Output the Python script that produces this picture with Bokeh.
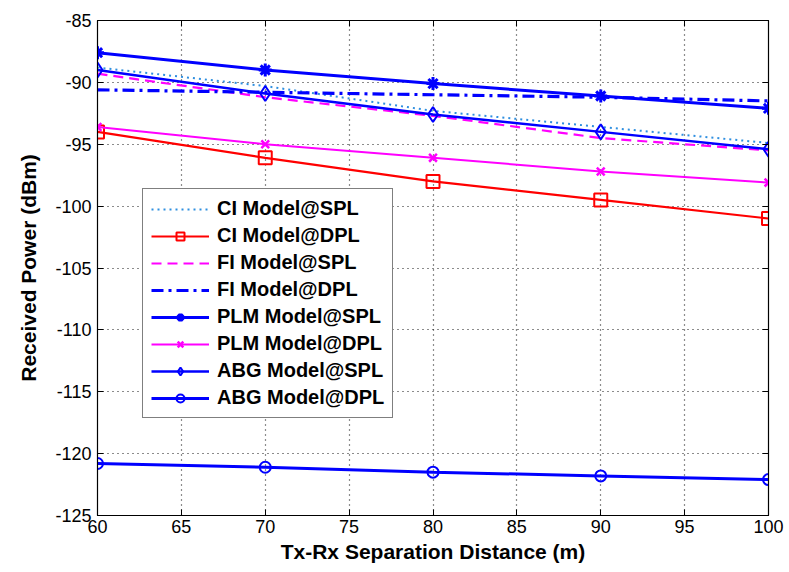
from bokeh.plotting import figure
from bokeh.models import LinearAxis, FixedTicker, Range1d
from bokeh.embed import file_html
from bokeh.resources import INLINE

distance = [60, 70, 80, 90, 100]
ci_spl = [-88.8, -90.3, -92.3, -93.6, -94.9]
ci_dpl = [-94.0, -96.1, -98.0, -99.5, -101.0]
fi_spl = [-89.3, -91.2, -92.7, -94.5, -95.5]
fi_dpl = [-90.6, -90.8, -91.0, -91.2, -91.5]
plm_spl = [-87.6, -89.0, -90.1, -91.1, -92.1]
plm_dpl = [-93.6, -95.0, -96.1, -97.2, -98.1]
abg_spl = [-89.0, -90.9, -92.6, -94.0, -95.4]
abg_dpl = [-120.8, -121.1, -121.5, -121.8, -122.1]

x_ticks = [60, 65, 70, 75, 80, 85, 90, 95, 100]
y_ticks = [-125, -120, -115, -110, -105, -100, -95, -90, -85]
y_tick_labels = ["-125", "-120", "-115", "-110", "-105", "-100", "-95", "-90", "-85"]

FONT = "Liberation Sans"

p = figure(width=789, height=572, output_backend="svg", toolbar_location=None,
           x_range=Range1d(60, 100), y_range=Range1d(-125, -85),
           min_border_left=97, min_border_right=21, min_border_top=20, min_border_bottom=57)
p.background_fill_color = "white"
p.border_fill_color = "white"
p.outline_line_color = "black"
p.outline_line_width = 1.2

for ax in [p.xaxis[0], p.yaxis[0]]:
    ax.major_tick_in = 6
    ax.major_tick_out = 0
    ax.minor_tick_line_color = None
    ax.axis_line_color = "black"
    ax.major_label_text_font = FONT
    ax.major_label_text_font_size = "18px"
    ax.major_label_text_color = "black"
    ax.axis_label_text_font = FONT
    ax.axis_label_text_font_size = "21px"
    ax.axis_label_text_font_style = "bold"
    ax.axis_label_text_color = "black"

p.xaxis.ticker = FixedTicker(ticks=x_ticks)
p.yaxis.ticker = FixedTicker(ticks=y_ticks)
p.yaxis.major_label_overrides = {t: l for t, l in zip(y_ticks, y_tick_labels)}
p.xaxis.axis_label = "Tx-Rx Separation Distance (m)"
p.yaxis.axis_label = "Received Power (dBm)"
p.xaxis.major_label_standoff = 4
p.yaxis.major_label_standoff = 6
p.xaxis.axis_label_standoff = 4
p.yaxis.axis_label_standoff = 12

# mirror ticks on top and right (no labels)
top = LinearAxis(ticker=FixedTicker(ticks=x_ticks), major_tick_in=6, major_tick_out=0,
                 minor_tick_line_color=None, axis_line_color="black",
                 major_label_overrides={t: "" for t in x_ticks})
right = LinearAxis(ticker=FixedTicker(ticks=y_ticks), major_tick_in=6, major_tick_out=0,
                   minor_tick_line_color=None, axis_line_color="black",
                   major_label_overrides={t: "" for t in y_ticks})
p.add_layout(top, "above")
p.add_layout(right, "right")

p.grid.grid_line_color = "black"
p.grid.grid_line_dash = "1 4"
p.grid.grid_line_width = 1.2
p.grid.grid_line_alpha = 0.9
p.xgrid.ticker = FixedTicker(ticks=x_ticks)
p.ygrid.ticker = FixedTicker(ticks=y_ticks)

BLUE = "#0000ff"
RED = "#ff0000"
MAG = "#ff00ff"
LBLUE = "#2f8fe0"

p.line(distance, ci_spl, color=LBLUE, line_width=2, line_dash="2 4", legend_label="CI Model@SPL")
p.line(distance, ci_dpl, color=RED, line_width=2.2, legend_label="CI Model@DPL")
p.scatter(distance, ci_dpl, marker="square", size=13, line_color=RED, fill_color=None,
          line_width=2, legend_label="CI Model@DPL")
p.line(distance, fi_spl, color=MAG, line_width=2.2, line_dash="10 6", legend_label="FI Model@SPL")
p.line(distance, fi_dpl, color=BLUE, line_width=3.2, line_dash="12 5 3 5", legend_label="FI Model@DPL")
p.line(distance, plm_spl, color=BLUE, line_width=3, legend_label="PLM Model@SPL")
p.scatter(distance, plm_spl, marker="asterisk", size=13, line_color=BLUE,
          line_width=3, legend_label="PLM Model@SPL")
p.line(distance, plm_dpl, color=MAG, line_width=2, legend_label="PLM Model@DPL")
p.scatter(distance, plm_dpl, marker="x", size=11, line_color=MAG,
          line_width=2.5, legend_label="PLM Model@DPL")
p.line(distance, abg_spl, color=BLUE, line_width=2.5, legend_label="ABG Model@SPL")
p.scatter(distance, abg_spl, marker="diamond", size=15, line_color=BLUE, fill_color=None,
          line_width=2, legend_label="ABG Model@SPL")
p.line(distance, abg_dpl, color=BLUE, line_width=3, legend_label="ABG Model@DPL")
p.scatter(distance, abg_dpl, marker="circle", size=11, line_color=BLUE, fill_color=None,
          line_width=2, legend_label="ABG Model@DPL")

lg = p.legend[0]
lg.location = (45, 97)
lg.border_line_color = "black"
lg.border_line_width = 1.5
lg.background_fill_color = "white"
lg.background_fill_alpha = 1
lg.label_text_font = FONT
lg.label_text_font_style = "bold"
lg.label_text_font_size = "20px"
lg.label_text_color = "black"
lg.glyph_width = 58
lg.glyph_height = 20
lg.label_height = 20
lg.spacing = 4
lg.padding = 8
lg.margin = 0
lg.label_standoff = 8

open("out.html", "w").write(file_html(p, INLINE))
